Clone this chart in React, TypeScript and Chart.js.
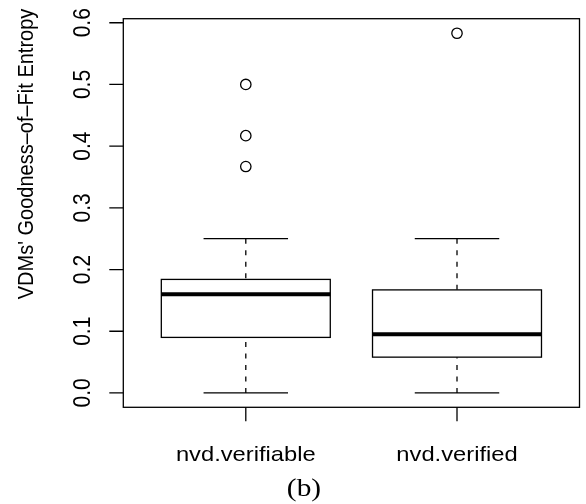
import React, { useEffect, useRef } from "react";
import { Chart, registerables } from "chart.js";

Chart.register(...registerables);

const categories = ["nvd.verifiable", "nvd.verified"];
const lowerWhisker = [0.0, 0.0];
const q1 = [0.09, 0.058];
const median = [0.16, 0.095];
const q3 = [0.184, 0.167];
const upperWhisker = [0.25, 0.25];
const outliersVerifiable = [0.5, 0.417, 0.367];
const outliersVerified = [0.583];
const yTicks = [0, 0.1, 0.2, 0.3, 0.4, 0.5, 0.6];
const yTickLabels = ["0.0", "0.1", "0.2", "0.3", "0.4", "0.5", "0.6"];
const yTitle = "VDMs' Goodness\u2013of\u2013Fit Entropy";
const caption = "(b)";

const SANS = "'Liberation Sans', Arial, Helvetica, sans-serif";
const SERIF = "'Liberation Serif', 'Times New Roman', serif";
const SX = 1.13;

function drawText(ctx: CanvasRenderingContext2D, text: string, x: number, y: number, rot: number, font: string, align: CanvasTextAlign) {
  ctx.save();
  ctx.translate(x, y);
  ctx.scale(SX, 1);
  ctx.rotate(rot);
  ctx.font = font;
  ctx.fillStyle = "#000";
  ctx.textAlign = align;
  ctx.textBaseline = "alphabetic";
  ctx.fillText(text, 0, 0);
  ctx.restore();
}

const boxPlugin = {
  id: "rBoxplot",
  beforeDraw(chart: any) {
    const ctx = chart.ctx;
    ctx.save();
    ctx.fillStyle = "#fff";
    ctx.fillRect(0, 0, chart.width, chart.height);
    ctx.restore();
  },
  beforeDatasetsDraw(chart: any) {
    const ctx: CanvasRenderingContext2D = chart.ctx;
    const xs = chart.scales.x;
    const ys = chart.scales.y;
    const area = chart.chartArea;
    ctx.save();
    ctx.strokeStyle = "#000";
    ctx.lineCap = "butt";
    categories.forEach((_, i) => {
      const cx = xs.getPixelForValue(i + 1);
      const half = xs.getPixelForValue(i + 1 + 0.4) - cx;
      const capHalf = half / 2;
      const yq1 = ys.getPixelForValue(q1[i]);
      const yq3 = ys.getPixelForValue(q3[i]);
      const ymed = ys.getPixelForValue(median[i]);
      const ylo = ys.getPixelForValue(lowerWhisker[i]);
      const yhi = ys.getPixelForValue(upperWhisker[i]);
      // whiskers (dashed)
      ctx.lineWidth = 1.3;
      ctx.setLineDash([5, 6.5]);
      ctx.beginPath();
      ctx.moveTo(cx, ylo);
      ctx.lineTo(cx, yq1);
      ctx.moveTo(cx, yhi);
      ctx.lineTo(cx, yq3);
      ctx.stroke();
      ctx.setLineDash([]);
      // caps
      ctx.beginPath();
      ctx.moveTo(cx - capHalf, ylo);
      ctx.lineTo(cx + capHalf, ylo);
      ctx.moveTo(cx - capHalf, yhi);
      ctx.lineTo(cx + capHalf, yhi);
      ctx.stroke();
      // box
      ctx.fillStyle = "#fff";
      ctx.fillRect(cx - half, yq3, 2 * half, yq1 - yq3);
      ctx.strokeRect(cx - half, yq3, 2 * half, yq1 - yq3);
      // median
      ctx.lineWidth = 4;
      ctx.beginPath();
      ctx.moveTo(cx - half, ymed);
      ctx.lineTo(cx + half, ymed);
      ctx.stroke();
    });
    // frame
    ctx.lineWidth = 1.3;
    ctx.strokeRect(area.left, area.top, area.right - area.left, area.bottom - area.top);
    // y ticks
    ctx.beginPath();
    yTicks.forEach((v) => {
      const y = ys.getPixelForValue(v);
      ctx.moveTo(area.left - 14, y);
      ctx.lineTo(area.left, y);
    });
    // x ticks
    categories.forEach((_, i) => {
      const x = xs.getPixelForValue(i + 1);
      ctx.moveTo(x, area.bottom);
      ctx.lineTo(x, area.bottom + 14);
    });
    ctx.stroke();
    ctx.restore();

    // texts
    yTicks.forEach((v, k) => {
      drawText(ctx, yTickLabels[k], 90, ys.getPixelForValue(v), -Math.PI / 2, `21px ${SANS}`, "center");
    });
    categories.forEach((c, i) => {
      drawText(ctx, c, xs.getPixelForValue(i + 1), 460.7, 0, `21px ${SANS}`, "center");
    });
    drawText(ctx, yTitle, 33, 154, -Math.PI / 2, `20px ${SANS}`, "center");
    drawText(ctx, caption, 304, 495.5, 0, `26px ${SERIF}`, "center");
  },
};

export default function App() {
  const ref = useRef<HTMLCanvasElement | null>(null);
  useEffect(() => {
    if (!ref.current) return;
    const outlierData = [
      ...outliersVerifiable.map((v) => ({ x: 1, y: v })),
      ...outliersVerified.map((v) => ({ x: 2, y: v })),
    ];
    const chart = new Chart(ref.current, {
      type: "scatter",
      data: {
        datasets: [
          {
            label: "outliers",
            data: outlierData,
            pointStyle: "circle",
            pointRadius: 5.2,
            pointBorderWidth: 1.3,
            borderColor: "#000",
            backgroundColor: "rgba(0,0,0,0)",
            pointBackgroundColor: "rgba(0,0,0,0)",
            pointBorderColor: "#000",
          } as any,
        ],
      },
      options: {
        responsive: false,
        animation: false,
        devicePixelRatio: 1,
        layout: { padding: { left: 123.3, top: 18.7, right: 4.3, bottom: 96.7 } },
        plugins: { legend: { display: false }, tooltip: { enabled: false }, title: { display: false } },
        events: [],
        scales: {
          x: { type: "linear", display: false, min: 0.42, max: 2.58 },
          y: { type: "linear", display: false, min: -0.0233, max: 0.6066 },
        },
      },
      plugins: [boxPlugin],
    });
    return () => chart.destroy();
  }, []);
  return (
    <div style={{ position: "absolute", left: 0, top: 0, width: 586, height: 504 }}>
      <canvas ref={ref} width={586} height={504} style={{ width: 586, height: 504, display: "block" }} />
    </div>
  );
}
